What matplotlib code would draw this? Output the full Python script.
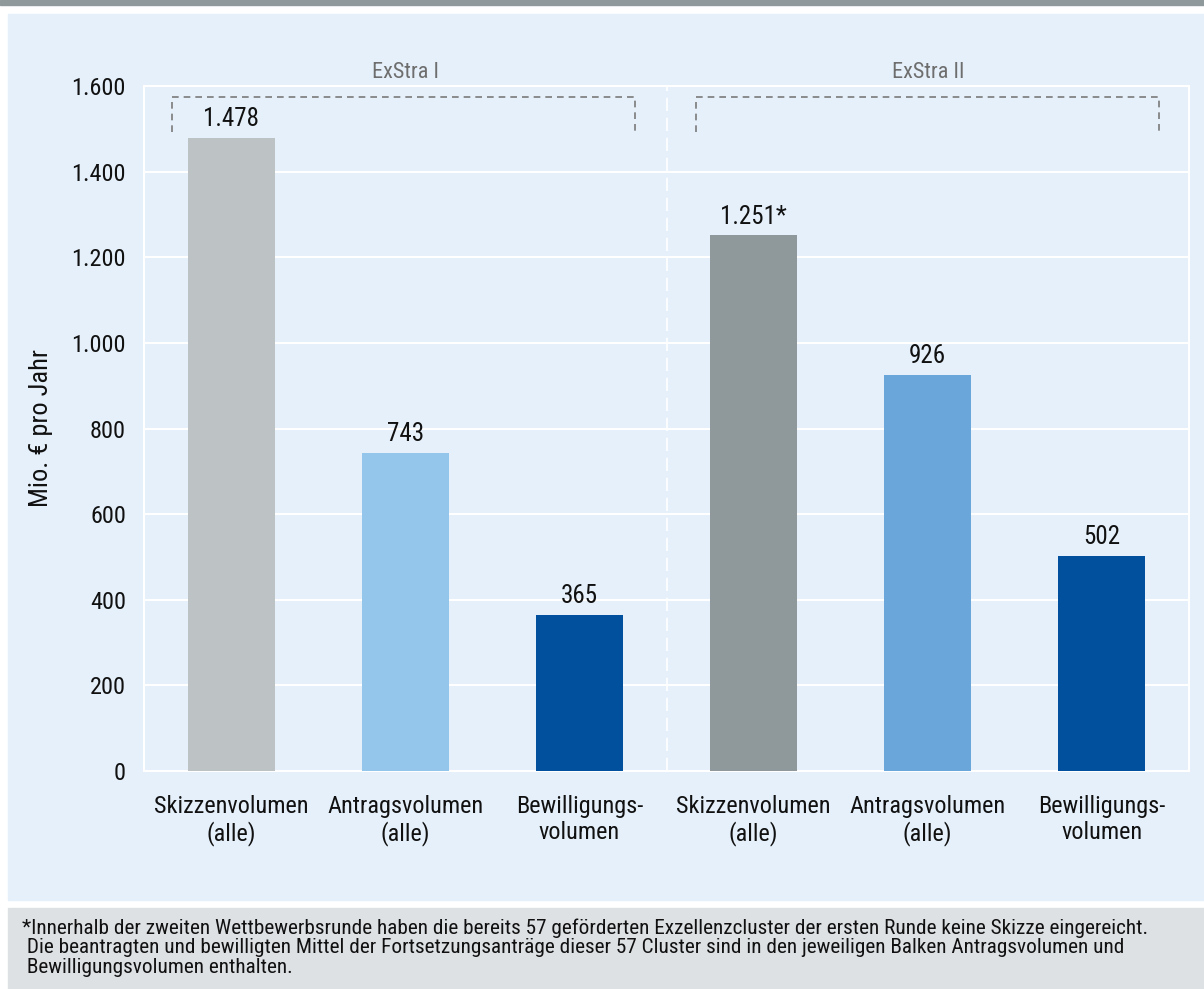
import matplotlib
matplotlib.use("Agg")
import matplotlib.pyplot as plt
from matplotlib.patches import Rectangle
from matplotlib import font_manager

names = {f.name for f in font_manager.fontManager.ttflist}
chosen = 'Open Sans'
for cand in ['Roboto Condensed', 'Open Sans Condensed', 'Liberation Sans Narrow', 'Open Sans']:
    if cand in names:
        chosen = cand
        break
plt.rcParams['font.family'] = [chosen, 'DejaVu Sans']
k = 1.0 if chosen != 'Open Sans' else 0.88

categories = ["Skizzenvolumen\n(alle)", "Antragsvolumen\n(alle)", "Bewilligungs-\nvolumen",
              "Skizzenvolumen\n(alle)", "Antragsvolumen\n(alle)", "Bewilligungs-\nvolumen"]
values = [1478, 743, 365, 1251, 926, 502]
value_labels = ["1.478", "743", "365", "1.251*", "926", "502"]
colors = ["#bdc2c5", "#94c6eb", "#00509e", "#8f989b", "#6ba6da", "#00509e"]
groups = ["ExStra I", "ExStra II"]
yticks = [0, 200, 400, 600, 800, 1000, 1200, 1400, 1600]
ytick_labels = ["0", "200", "400", "600", "800", "1.000", "1.200", "1.400", "1.600"]
footnote = ("*Innerhalb der zweiten Wettbewerbsrunde haben die bereits 57 geförderten Exzellenzcluster der ersten Runde keine Skizze eingereicht.\n"
            " Die beantragten und bewilligten Mittel der Fortsetzungsanträge dieser 57 Cluster sind in den jeweiligen Balken Antragsvolumen und\n"
            " Bewilligungsvolumen enthalten.")

W, H = 1204, 989
fig = plt.figure(figsize=(W/100, H/100), dpi=100)
fig.patch.set_facecolor("white")

# background panels
fig.add_artist(Rectangle((0, 1 - 5/H), 1, 5/H, transform=fig.transFigure, color="#8f989b", zorder=0))
fig.add_artist(Rectangle((8/W, 1 - 900/H), 1 - 8/W, (900-14)/H, transform=fig.transFigure, color="#e5f0fa", zorder=0))
fig.add_artist(Rectangle((8/W, 0), 1 - 8/W, (989-908)/H, transform=fig.transFigure, color="#dde1e4", zorder=0))

left, right, top, bottom = 144, 1189, 86, 771
ax = fig.add_axes([left/W, 1 - bottom/H, (right-left)/W, (bottom-top)/H])
ax.set_facecolor("#e5f0fa")
x = list(range(len(values)))
ax.bar(x, values, width=0.5, color=colors, zorder=3)
ax.set_xlim(-0.5, 5.5)
ax.set_ylim(0, 1600)
ax.set_yticks(yticks)
ax.set_yticklabels(ytick_labels, fontsize=17.5*k, color='#111111')
ax.set_xticks(x)
ax.set_xticklabels(categories, fontsize=17.5*k, linespacing=1.2, color='#111111')
ax.tick_params(axis='y', length=0, pad=13)
ax.tick_params(axis='x', length=0, pad=17)
ax.grid(axis='y', color='white', lw=1.5, zorder=1)
for s in ax.spines.values():
    s.set_color('white')
    s.set_linewidth(1.5)
ax.set_ylabel("Mio. € pro Jahr", fontsize=19*k, labelpad=13, color='#111111')

for xi, v, lab in zip(x, values, value_labels):
    ax.text(xi, v + 16, lab, ha='center', va='bottom', fontsize=18*k, color='#111111', zorder=4)

# group divider
ax.axvline(2.5, color='white', lw=1.2, ls=(0, (8, 4)), zorder=2)

# brackets
brk_color = "#7a7a7a"
for (x0, x1), g, cx in zip([(-0.34, 2.32), (2.67, 5.33)], groups, [1.0, 4.0]):
    ax.plot([x0, x0, x1, x1], [1492, 1574, 1574, 1492], color=brk_color, lw=1.2,
            ls=(0, (4, 3)), clip_on=False, zorder=4)
    ax.text(cx, 1608, g, ha='center', va='bottom', fontsize=16*k, color='#6e6e6e', clip_on=False)

fig.text(22/W, 1 - 918/H, footnote, ha='left', va='top', fontsize=15.3*k, color='#111111', linespacing=1.06)

fig.savefig("out.png", dpi=100, facecolor=fig.get_facecolor())
